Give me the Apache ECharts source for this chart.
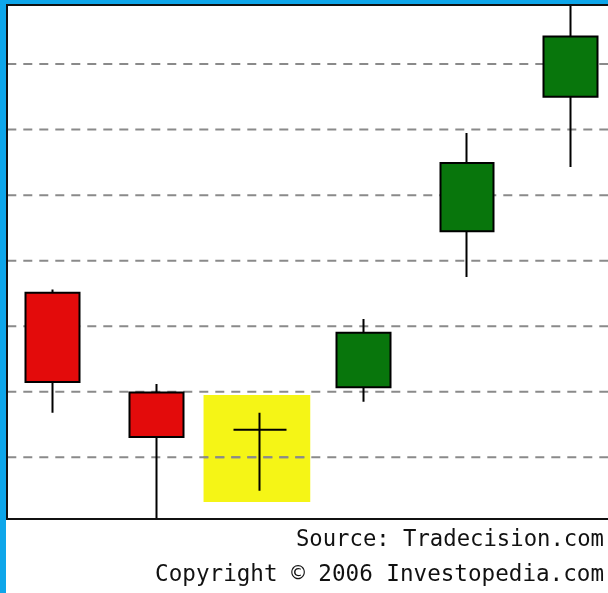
<!DOCTYPE html>
<html>
<head>
<meta charset="utf-8">
<script src="https://cdn.jsdelivr.net/npm/echarts@6/dist/echarts.min.js"></script>
<style>
html,body{margin:0;padding:0;background:#fff;}
#c{width:608px;height:593px;}
</style>
</head>
<body>
<div id="c"></div>
<script>
// Data (price units; gridlines every 1 unit)
const categories = ['Day 1', 'Day 2', 'Day 3', 'Day 4', 'Day 5', 'Day 6'];
const openVals  = [3.51, 1.99, 1.42, 2.07, 4.45, 6.50];
const closeVals = [2.15, 1.31, 1.42, 2.90, 5.49, 7.42];
const lowVals   = [1.68, 0.06, 0.49, 1.85, 3.75, 5.43];
const highVals  = [3.56, 2.12, 1.68, 3.11, 5.95, 7.95];
const gridValues = [1, 2, 3, 4, 5, 6, 7];
// highlighted (doji) region: [category index, low, high]
const highlightBox = [[2, 0.32, 1.95]];
const sourceText = 'Source: Tradecision.com';
const copyrightText = 'Copyright \u00A9 2006 Investopedia.com';

const candleData = categories.map((c, i) => [openVals[i], closeVals[i], lowVals[i], highVals[i]]);

const GRID_LEFT = 0.9;
const DASH = [9, 7];
const DASH_OFFSET = 9.6;
const gridStyle = {color: '#8a8a8a', width: 2, type: DASH, dashOffset: DASH_OFFSET};

const gridLineSeries = gridValues.map(v => ({
  type: 'line', xAxisIndex: 1, yAxisIndex: 0, z: 10, silent: true,
  symbol: 'none', showSymbol: false,
  lineStyle: gridStyle,
  data: [[0, v], [1, v]]
}));

const chart = echarts.init(document.getElementById('c'), null, {renderer: 'canvas'});
const blue = '#0ea6ea';
chart.setOption({
  animation: false,
  grid: {left: GRID_LEFT, top: -1.5, width: 621.6, height: 524.4, containLabel: false, outerBoundsMode: 'none'},
  xAxis: [
    {
      type: 'category', data: categories, boundaryGap: true,
      axisLine: {show: false}, axisTick: {show: false}, axisLabel: {show: false},
      splitLine: {show: false}
    },
    {
      type: 'value', min: 0, max: 1, show: false, splitLine: {show: false}
    }
  ],
  yAxis: {
    type: 'value', min: 0, max: 8, interval: 1,
    axisLine: {show: false}, axisTick: {show: false}, axisLabel: {show: false},
    splitLine: {show: false}
  },
  series: [
    {
      type: 'custom', z: 5, silent: true,
      data: highlightBox,
      renderItem: function (params, api) {
        const lo = api.value(1), hi = api.value(2);
        const lowPt = api.coord([api.value(0), lo]);
        const highPt = api.coord([api.value(0), hi]);
        const w = api.size([1, 0])[0] * 1.03;
        const x0 = lowPt[0] - w / 2 - 3;
        const children = [{
          type: 'rect',
          shape: {x: x0, y: highPt[1], width: w, height: lowPt[1] - highPt[1]},
          style: {fill: '#f5f516'}
        }];
        gridValues.filter(v => v > lo && v < hi).forEach(v => {
          const y = api.coord([api.value(0), v])[1];
          children.push({
            type: 'line',
            shape: {x1: x0, y1: y, x2: x0 + w, y2: y},
            style: {stroke: gridStyle.color, lineWidth: 2, lineDash: DASH,
              lineDashOffset: (x0 - GRID_LEFT + DASH_OFFSET)}
          });
        });
        return {type: 'group', children: children};
      }
    },
    ...gridLineSeries,
    {
      type: 'candlestick', z: 20, barWidth: 54, silent: true,
      data: candleData,
      itemStyle: {
        color: '#08760c', color0: '#e30b0b',
        borderColor: '#000', borderColor0: '#000', borderColorDoji: '#000',
        borderWidth: 2
      }
    }
  ],
  graphic: [
    {type: 'rect', z: 100, shape: {x: 0, y: 0, width: 6, height: 593}, style: {fill: blue}},
    {type: 'rect', z: 100, shape: {x: 0, y: 0, width: 608, height: 4}, style: {fill: blue}},
    {type: 'line', z: 100, shape: {x1: 6, y1: 5, x2: 608, y2: 5}, style: {stroke: '#111', lineWidth: 2}},
    {type: 'line', z: 100, shape: {x1: 7, y1: 4, x2: 7, y2: 520}, style: {stroke: '#111', lineWidth: 2}},
    {type: 'line', z: 100, shape: {x1: 6, y1: 519, x2: 608, y2: 519}, style: {stroke: '#111', lineWidth: 2}},
    {type: 'rect', z: 99, shape: {x: 6, y: 520, width: 602, height: 73}, style: {fill: '#fff'}},
    {type: 'text', z: 100, style: {text: sourceText, x: 604, y: 540, align: 'right', verticalAlign: 'middle',
      font: '22.25px "DejaVu Sans Mono"', fill: '#111'}},
    {type: 'text', z: 100, style: {text: copyrightText, x: 604, y: 575, align: 'right', verticalAlign: 'middle',
      font: '22.6px "DejaVu Sans Mono"', fill: '#111'}}
  ]
});
</script>
</body>
</html>
